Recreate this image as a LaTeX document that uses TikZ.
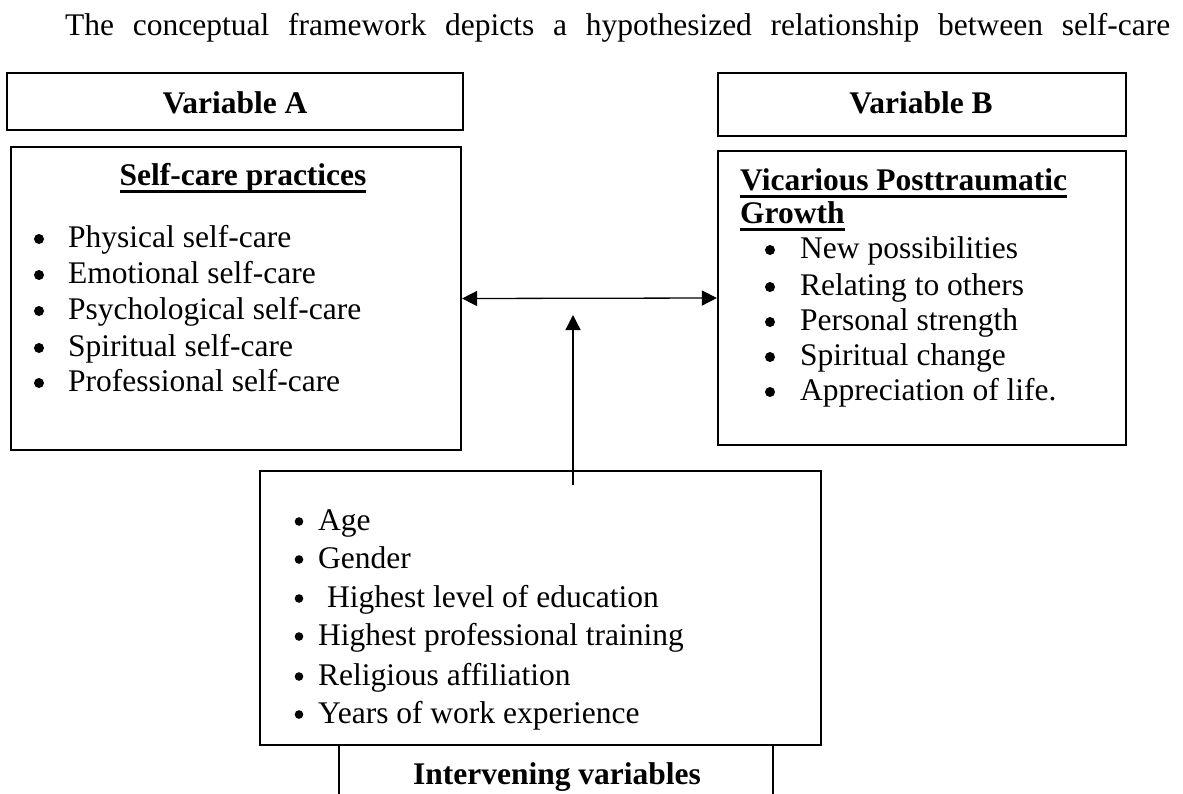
\documentclass[tikz,border=0pt]{standalone}
\usepackage{fontspec}
\setmainfont{Liberation Serif}
\usetikzlibrary{arrows.meta}
\newcommand\ulbox[1]{\setbox0\hbox{#1}\rlap{\rule[-7.5pt]{\wd0}{2.6pt}}\box0}
\tikzset{
  box/.style={draw, line width=2.2pt, inner sep=0pt},
  txt/.style={inner sep=0pt, anchor=base west, font=\fontsize{31.5}{36}\selectfont},
  head/.style={txt, font=\fontsize{31.5}{36}\selectfont\bfseries},
  link/.style={line width=1.3pt, -{Triangle[length=15pt,width=15pt]}},
  twoway/.style={line width=1.3pt, {Triangle[length=15pt,width=15pt]}-{Triangle[length=15pt,width=15pt]}}
}

\begin{document}
\begin{tikzpicture}[x=1pt,y=-1pt]
  \useasboundingbox (0,0) rectangle (1183,793);

  \node[txt] (intro) at (65,35) {\makebox[1105pt][s]{The conceptual framework depicts a hypothesized relationship between self-care}};

  % variable headers
  \node[box, minimum width=456, minimum height=57] (varA) at (235,101.5) {};
  \node[head, anchor=base] (varAt) at (235,113) {Variable A};
  \node[box, minimum width=408, minimum height=63] (varB) at (922,104.5) {};
  \node[head, anchor=base] (varBt) at (921,113) {Variable B};

  % self-care practices
  \node[box, minimum width=450, minimum height=303] (scp) at (236,298.5) {};
  \node[head, anchor=base] (scph) at (243,185) {\ulbox{Self-care practices}};
  \node[txt] (sc1) at (68,247) {Physical self-care};
  \node[txt] (sc2) at (68,283) {Emotional self-care};
  \node[txt] (sc3) at (68,319) {Psychological self-care};
  \node[txt] (sc4) at (68,356) {Spiritual self-care};
  \node[txt] (sc5) at (68,391) {Professional self-care};

  % vicarious posttraumatic growth
  \node[box, minimum width=408, minimum height=294] (vpg) at (922,298) {};
  \node[head] (vpgh1) at (740,190) {\ulbox{Vicarious Posttraumatic}};
  \node[head] (vpgh2) at (740,223) {\ulbox{Growth}};
  \node[txt] (vg1) at (800,258) {New possibilities};
  \node[txt] (vg2) at (800,295) {Relating to others};
  \node[txt] (vg3) at (800,330) {Personal strength};
  \node[txt] (vg4) at (800,365) {Spiritual change};
  \node[txt] (vg5) at (800,400) {Appreciation of life.};

  % intervening variables
  \node[box, minimum width=561, minimum height=274] (ivb) at (540.5,608) {};
  \node[txt] (iv1) at (318,530) {Age};
  \node[txt] (iv2) at (318,568) {Gender};
  \node[txt] (iv3) at (327,607) {Highest level of education};
  \node[txt] (iv4) at (318,645) {Highest professional training};
  \node[txt] (iv5) at (318,685) {Religious affiliation};
  \node[txt] (iv6) at (318,723) {Years of work experience};
  \node[box, minimum width=434, minimum height=100] (ivl) at (556,795) {};
  \node[head, anchor=base] (ivlab) at (557,784) {Intervening variables};

  % bullets
  \foreach \n in {sc1,sc2,sc3,sc4,sc5}
    \fill ([shift={(-29,-8)}]\n.base west) circle (5pt);
  \foreach \n in {vg1,vg2,vg3,vg4,vg5}
    \fill ([shift={(-30,-8)}]\n.base west) circle (5pt);
  \foreach \n in {iv1,iv2,iv4,iv5,iv6}
    \fill ([shift={(-19,-8.5)}]\n.base west) circle (4.3pt);
  \fill ([shift={(-28,-8.5)}]iv3.base west) circle (4.3pt);

  % relations
  \draw[twoway] (scp.east) -- (vpg.west);
  \coordinate (ivfoot) at (573,485);
  \coordinate (ivtip) at (573,315);
  \draw[link] (ivfoot) -- (ivtip);
\end{tikzpicture}
\end{document}
